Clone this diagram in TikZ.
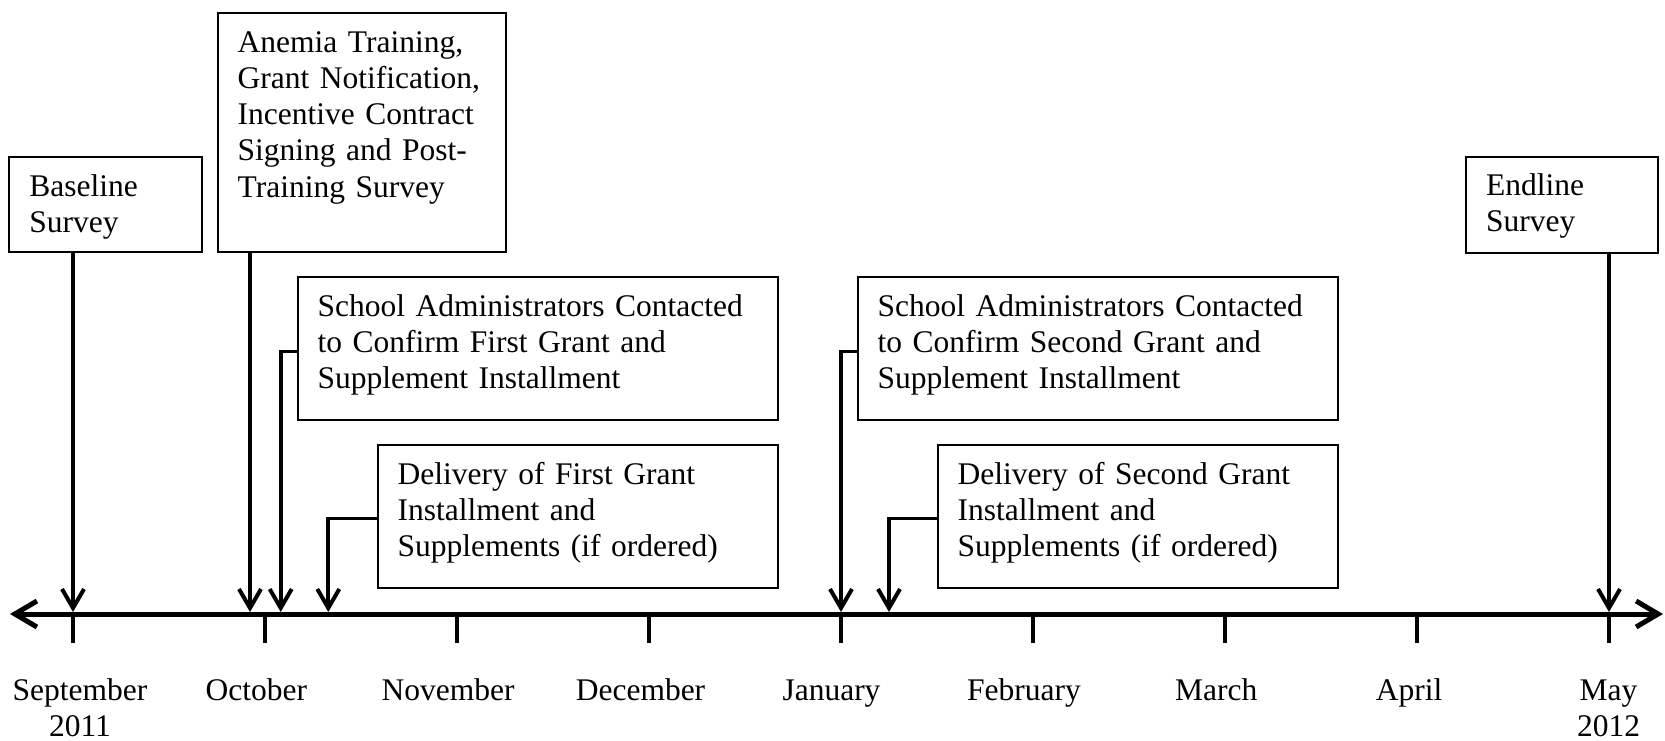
\documentclass[tikz,border=0pt]{standalone}
\usepackage{fontspec}
\setmainfont{Liberation Serif}
\usetikzlibrary{arrows.meta,positioning}

\begin{document}
\begin{tikzpicture}[
x=1pt, y=-1pt,
font=\fontsize{31.5}{36.2}\selectfont,
event/.style={draw, line width=2pt, anchor=north west, inner xsep=20pt, inner ysep=0pt, text height=39pt, align=left},
arrow/.style={-{Straight Barb[length=19pt, width=22pt]}, line width=4pt},
stub/.style={line width=3pt},
axis/.style={{Straight Barb[length=22pt, width=26pt]}-{Straight Barb[length=22pt, width=26pt]}, line width=5pt},
tick/.style={line width=4.5pt},
month/.style={anchor=base, inner sep=0pt},
]
\useasboundingbox (0,0) rectangle (1665,741);

% event boxes
\node[event, text width=152.4pt, text depth=56pt] (base) at (8.3,156) {Baseline\\Survey};
\node[event, text width=248.3pt, text depth=199.4pt] (anem) at (216.7,12.3) {Anemia Training,\\Grant Notification,\\Incentive Contract\\Signing and Post-\\Training Survey};
\node[event, text width=151.7pt, text depth=57pt] (endl) at (1465,155.7) {Endline\\Survey};
\node[event, text width=440pt, text depth=104.3pt] (sch1) at (296.7,276) {School Administrators Contacted\\to Confirm First Grant and\\Supplement Installment};
\node[event, text width=360pt, text depth=104.3pt] (del1) at (376.7,444) {Delivery of First Grant\\Installment and\\Supplements (if ordered)};
\node[event, text width=440pt, text depth=104.3pt] (sch2) at (856.7,276) {School Administrators Contacted\\to Confirm Second Grant and\\Supplement Installment};
\node[event, text width=360pt, text depth=104.3pt] (del2) at (936.7,444) {Delivery of Second Grant\\Installment and\\Supplements (if ordered)};

% time axis
\coordinate (ax-l) at (10,614);
\coordinate (ax-r) at (1663,614);
\draw[axis] (ax-l) -- (ax-r);

\coordinate (m-sep) at (73,614);
\coordinate (m-oct) at (265,614);
\coordinate (m-nov) at (457,614);
\coordinate (m-dec) at (649,614);
\coordinate (m-jan) at (841,614);
\coordinate (m-feb) at (1033,614);
\coordinate (m-mar) at (1225,614);
\coordinate (m-apr) at (1417,614);
\coordinate (m-may) at (1609,614);

\draw[tick] (m-sep) -- ++(0,29);
\draw[tick] (m-oct) -- ++(0,29);
\draw[tick] (m-nov) -- ++(0,29);
\draw[tick] (m-dec) -- ++(0,29);
\draw[tick] (m-jan) -- ++(0,29);
\draw[tick] (m-feb) -- ++(0,29);
\draw[tick] (m-mar) -- ++(0,29);
\draw[tick] (m-apr) -- ++(0,29);
\draw[tick] (m-may) -- ++(0,29);

% month labels
\node[month] (l-sep) at (80,700) {\begin{tabular}[t]{@{}c@{}}September\\2011\end{tabular}};
\node[month] (l-oct) at (256.3,700) {October};
\node[month] (l-nov) at (448,700) {November};
\node[month] (l-dec) at (640.5,700) {December};
\node[month] (l-jan) at (831.5,700) {January};
\node[month] (l-feb) at (1024,700) {February};
\node[month] (l-mar) at (1216.3,700) {March};
\node[month] (l-apr) at (1409,700) {April};
\node[month] (l-may) at (1608.5,700) {\begin{tabular}[t]{@{}c@{}}May\\2012\end{tabular}};

% arrow ends on the axis
\coordinate (e-base) at (73,612);
\coordinate (e-anem) at (250,612);
\coordinate (e-sch1) at (280.7,612);
\coordinate (e-del1) at (328.3,612);
\coordinate (e-sch2) at (841,612);
\coordinate (e-del2) at (889,612);
\coordinate (e-endl) at (1609,612);

% bends of the side connectors
\coordinate (k-sch1) at (280.7,351);
\coordinate (k-del1) at (328.3,518.3);
\coordinate (k-sch2) at (841,351);
\coordinate (k-del2) at (889,518.3);

\draw[arrow] (base.south -| e-base) -- (e-base);
\draw[arrow] (anem.south -| e-anem) -- (e-anem);
\draw[arrow] (endl.south -| e-endl) -- (e-endl);

\draw[stub] (sch1.west |- k-sch1) -- (k-sch1);
\draw[arrow] ([yshift=1.5pt]k-sch1) -- (e-sch1);
\draw[stub] (del1.west |- k-del1) -- (k-del1);
\draw[arrow] ([yshift=1.5pt]k-del1) -- (e-del1);
\draw[stub] (sch2.west |- k-sch2) -- (k-sch2);
\draw[arrow] ([yshift=1.5pt]k-sch2) -- (e-sch2);
\draw[stub] (del2.west |- k-del2) -- (k-del2);
\draw[arrow] ([yshift=1.5pt]k-del2) -- (e-del2);

\end{tikzpicture}
\end{document}
